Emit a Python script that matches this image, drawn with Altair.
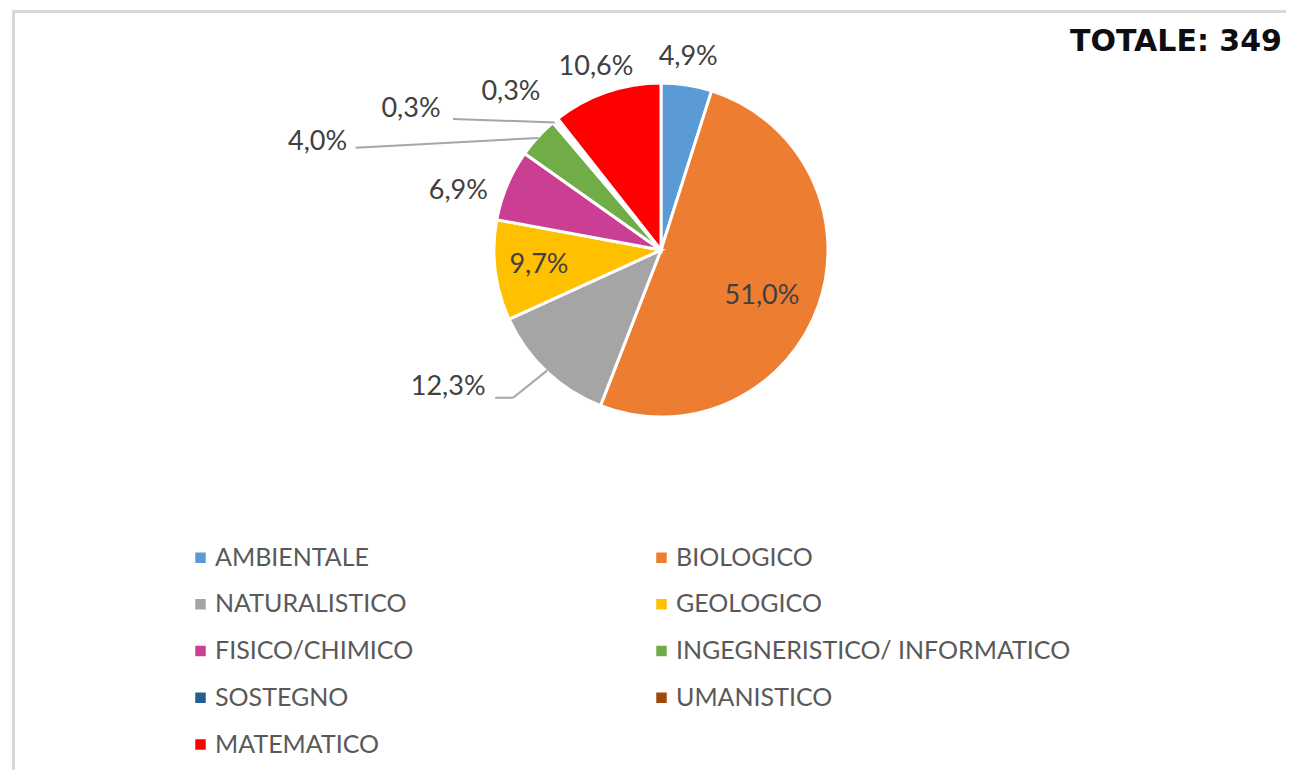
import altair as alt
import pandas as pd

# ---------------- data ----------------
CATEGORIES = [
    "AMBIENTALE", "BIOLOGICO", "NATURALISTICO", "GEOLOGICO", "FISICO/CHIMICO",
    "INGEGNERISTICO/ INFORMATICO", "SOSTEGNO", "UMANISTICO", "MATEMATICO",
]
PERCENT = [4.9, 51.0, 12.3, 9.7, 6.9, 4.0, 0.3, 0.3, 10.6]
LABELS = ["4,9%", "51,0%", "12,3%", "9,7%", "6,9%", "4,0%", "0,3%", "0,3%", "10,6%"]
TOTAL_TEXT = "TOTALE: 349"

# ---------------- style ----------------
COLORS = ["#5B9BD5", "#ED7D31", "#A5A5A5", "#FFC000", "#CA3F93",
          "#70AD47", "#255E91", "#9E480E", "#FF0000"]
# label placement: distance from pie centre (px) and angular nudge (deg)
LABEL_RADIUS = [195, 111, 253, 123, 211, 360, 287, 218, 194]
LABEL_SHIFT = [-0.8, 5.1, 13.9, 0.0, -6.7, -25.0, -20.8, -4.8, -0.5]
# leader lines: which labels have one, end offset from label centre, elbow offset
HAS_LEADER = [0, 0, 1, 0, 0, 1, 1, 0, 0]
LEADER_DX = [0, 0, 47, 0, 0, 38, 42, 0, 0]
LEADER_DY = [0, 0, 11, 0, 0, 6, 10, 0, 0]
ELBOW_DX = [0, 0, 65, 0, 0, 38, 42, 0, 0]
ELBOW_DY = [0, 0, 11, 0, 0, 6, 10, 0, 0]

W, H = 1278, 762
CX, CY, R = 653, 242, 167

df = pd.DataFrame({
    "idx": list(range(len(CATEGORIES))),
    "cat": CATEGORIES,
    "pct": PERCENT,
    "label": LABELS,
    "lr": LABEL_RADIUS,
    "shift": LABEL_SHIFT,
    "leader": HAS_LEADER,
    "ldx": LEADER_DX,
    "ldy": LEADER_DY,
    "edx": ELBOW_DX,
    "edy": ELBOW_DY,
})

base = alt.Chart(df)

pie = base.mark_arc(outerRadius=R, stroke="white", strokeWidth=3).encode(
    theta=alt.Theta("pct:Q", stack=True),
    order=alt.Order("idx:Q"),
    color=alt.Color(
        "cat:N",
        sort=CATEGORIES,
        scale=alt.Scale(domain=CATEGORIES, range=COLORS),
        legend=alt.Legend(
            title=None, orient="none", legendX=180, legendY=537, columns=2,
            direction="horizontal",
            symbolType="square", symbolSize=110, symbolStrokeWidth=0,
            labelFont="Lato", labelFontSize=25, labelColor="#595959",
            labelOffset=2, rowPadding=20.75, columnPadding=235, padding=0,
            labelLimit=600,
        ),
    ),
    x=alt.value(CX),
    y=alt.value(CY),
)

geo = (
    base.transform_joinaggregate(total="sum(pct)")
    .transform_window(cum="sum(pct)", sort=[alt.SortField("idx")], frame=[None, 0])
    .transform_calculate(
        mid="(datum.cum - datum.pct / 2) / datum.total * 2 * PI",
        la="datum.mid + datum.shift * PI / 180",
        lx=f"{CX} + datum.lr * sin(datum.la)",
        ly=f"{CY} - datum.lr * cos(datum.la)",
        ex=f"{CX} + {R - 1} * sin(datum.mid)",
        ey=f"{CY} - {R - 1} * cos(datum.mid)",
    )
)

labels = geo.mark_text(
    font="Lato", fontSize=27, color="#404040", align="center", baseline="middle"
).encode(
    x=alt.X("lx:Q", scale=None),
    y=alt.Y("ly:Q", scale=None),
    text="label:N",
)

lead = geo.transform_filter("datum.leader == 1").transform_calculate(
    tx="datum.lx + datum.ldx",
    ty="datum.ly + datum.ldy",
    bx="datum.lx + datum.edx",
    by="datum.ly + datum.edy",
)
leader1 = lead.mark_rule(color="#A6A6A6", strokeWidth=2).encode(
    x=alt.X("ex:Q", scale=None), y=alt.Y("ey:Q", scale=None),
    x2="bx:Q", y2="by:Q",
)
leader2 = lead.mark_rule(color="#A6A6A6", strokeWidth=2).encode(
    x=alt.X("bx:Q", scale=None), y=alt.Y("by:Q", scale=None),
    x2="tx:Q", y2="ty:Q",
)

frame_top = alt.Chart(df).mark_rule(color="#D9D9D9", strokeWidth=3).encode(
    x=alt.value(4), x2=alt.value(W), y=alt.value(3.5)
)
frame_left = alt.Chart(df).mark_rule(color="#D9D9D9", strokeWidth=3).encode(
    x=alt.value(5.5), y=alt.value(2), y2=alt.value(H)
)

total = alt.Chart(pd.DataFrame({"t": [TOTAL_TEXT]})).mark_text(
    font="DejaVu Sans", fontSize=30, fontWeight="bold", color="#0D0D12",
    align="center", baseline="middle",
).encode(text="t:N", x=alt.value(1168), y=alt.value(34))

chart = alt.layer(
    frame_top, frame_left, pie, leader1, leader2, labels, total
).properties(
    width=W, height=H, padding=0, autosize="none"
).configure_view(stroke=None)

chart.save("out.html", embed_options={"renderer": "svg", "actions": False})
